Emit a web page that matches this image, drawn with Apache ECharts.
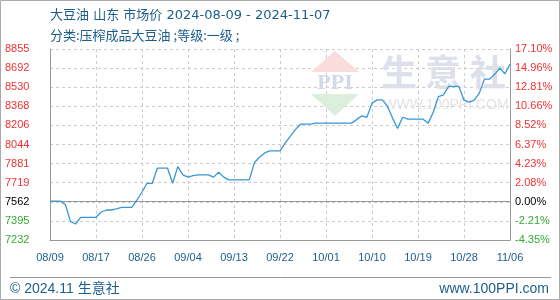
<!DOCTYPE html>
<html>
<head>
<meta charset="utf-8">
<script src="https://cdn.jsdelivr.net/npm/echarts@6/dist/echarts.min.js"></script>
<style>
html,body{margin:0;padding:0;background:#fff;}
#c{width:560px;height:300px;}
</style>
</head>
<body>
<div id="c"></div>
<script>
const titleText = '大豆油 山东 市场价 2024-08-09 - 2024-11-07';
const subTitleText = '分类:压榨成品大豆油 ;等级:一级 ;';
const dates = [
'08/09','08/10','08/11','08/12','08/13','08/14','08/15','08/16','08/17','08/18','08/19','08/20','08/21','08/22','08/23','08/24','08/25','08/26','08/27','08/28','08/29','08/30','08/31',
'09/01','09/02','09/03','09/04','09/05','09/06','09/07','09/08','09/09','09/10','09/11','09/12','09/13','09/14','09/15','09/16','09/17','09/18','09/19','09/20','09/21','09/22','09/23','09/24','09/25','09/26','09/27','09/28','09/29','09/30',
'10/01','10/02','10/03','10/04','10/05','10/06','10/07','10/08','10/09','10/10','10/11','10/12','10/13','10/14','10/15','10/16','10/17','10/18','10/19','10/20','10/21','10/22','10/23','10/24','10/25','10/26','10/27','10/28','10/29','10/30','10/31',
'11/01','11/02','11/03','11/04','11/05','11/06','11/07'];
const prices = [
7562,7562,7562,7534,7390,7368,7425,7425,7425,7425,
7470,7487,7487,7496,7510,7510,7510,7570,7640,7714,
7714,7842,7842,7842,7714,7856,7785,7766,7779,7785,
7785,7785,7766,7808,7766,7743,7743,7743,7743,7743,
7890,7935,7972,7989,7989,7989,8055,8112,8170,8216,
8216,8216,8225,8225,8225,8225,8225,8225,8225,8225,
8255,8287,8275,8395,8423,8423,8370,8270,8180,8275,
8259,8259,8259,8259,8225,8320,8450,8466,8537,8537,
8537,8420,8404,8420,8480,8599,8599,8640,8693,8645,
8725];
const xTickLabels = ['08/09','08/17','08/26','09/04','09/13','09/22','10/01','10/10','10/19','10/28','11/06'];
const leftTickLabels = ['7232','7395','7562','7719','7881','8044','8206','8368','8530','8692','8855'];
const rightTickLabels = ['-4.35%','-2.21%','0.00%','2.08%','4.23%','6.37%','8.52%','10.66%','12.81%','14.96%','17.10%'];
const basePrice = 7562;
const priceMin = 7232, priceMax = 8855;
const baseTickIndex = 2;

const tickEvery = 9;
const textBlue = '#1c5d8c';
const labelFont = 'Liberation Sans, Arial, sans-serif';
function tickColor(v){
  if (v > baseTickIndex) return '#f03232';
  if (v < baseTickIndex) return '#35a835';
  return '#000';
}

const chart = echarts.init(document.getElementById('c'), null, {renderer:'canvas'});
chart.setOption({
  animation:false,
  backgroundColor:'#fff',
  grid:{left:50, right:50, top:49, bottom:60, containLabel:false},
  xAxis:{
    type:'category', data:dates, boundaryGap:false,
    axisLine:{show:true, lineStyle:{color:'#999', width:1}},
    axisTick:{show:false},
    axisLabel:{
      interval:function(i){return i % tickEvery === 0;},
      formatter:function(v,i){return xTickLabels[Math.round(i/tickEvery)];},
      color:textBlue, fontSize:11, fontFamily:labelFont, margin:12
    },
    splitLine:{show:true, interval:function(i){return i % tickEvery === 0 && i>0;}, lineStyle:{color:'#cccccc', type:[3,3], width:1}}
  },
  yAxis:[
    {type:'value', min:priceMin, max:priceMax, show:false},
    {type:'value', position:'left', min:0, max:10, interval:1,
      axisLine:{show:true, lineStyle:{color:'#999', width:1}},
      axisTick:{show:false},
      splitLine:{show:true, lineStyle:{color:'#cccccc', type:[3,3], width:1}},
      axisLabel:{formatter:function(v){return leftTickLabels[Math.round(v)];}, color:function(v){return tickColor(Math.round(v));}, fontSize:11, fontFamily:labelFont, align:'left', margin:45}
    },
    {type:'value', position:'right', min:0, max:10, interval:1,
      axisLine:{show:true, lineStyle:{color:'#999', width:1}},
      axisTick:{show:false},
      splitLine:{show:false},
      axisLabel:{formatter:function(v){return rightTickLabels[Math.round(v)];}, color:function(v){return tickColor(Math.round(v));}, fontSize:11, fontFamily:labelFont, align:'left', margin:5}
    }
  ],
  series:[{
    type:'line', data:prices, yAxisIndex:0, symbol:'none', smooth:false,
    lineStyle:{color:'#3897d5', width:1.3},
    itemStyle:{color:'#3897d5'},
    z:5,
    markLine:{silent:true, symbol:'none', label:{show:false}, animation:false,
      lineStyle:{color:'#999', type:'solid', width:1},
      data:[{yAxis:basePrice}]}
  }],
  graphic:[
    {type:'rect', shape:{x:0.5,y:0.5,width:559,height:299}, style:{fill:'none', stroke:'#aaa', lineWidth:1}, z:0, silent:true},
    {type:'text', x:50, y:16, style:{text:titleText, fill:textBlue, font:'13px "DejaVu Sans", "Noto Sans CJK SC", sans-serif', textVerticalAlign:'middle'}},
    {type:'text', x:50, y:35, style:{text:subTitleText, fill:textBlue, font:'13px "Noto Sans CJK SC", sans-serif', textVerticalAlign:'middle'}},
    // watermark logo
    {type:'polygon', shape:{points:[[335,51],[359,72],[311,72]]}, style:{fill:'#fbdcdc'}, z:1, silent:true},
    {type:'text', x:335, y:83, style:{text:'PPI', fill:'#d3d9e8', font:'bold 22px "Liberation Serif", serif', textAlign:'center', textVerticalAlign:'middle'}, z:1, silent:true},
    {type:'polygon', shape:{points:[[311,94],[359,94],[335,116]]}, style:{fill:'#dcefdd'}, z:1, silent:true},
    {type:'text', x:399, y:72, style:{text:'生', fill:'#dde0ea', font:'bold 36px "Noto Sans CJK SC", sans-serif', textAlign:'center', textVerticalAlign:'middle'}, z:1, silent:true},
    {type:'text', x:443, y:72, style:{text:'意', fill:'#dde0ea', font:'bold 36px "Noto Sans CJK SC", sans-serif', textAlign:'center', textVerticalAlign:'middle'}, z:1, silent:true},
    {type:'text', x:488, y:72, style:{text:'社', fill:'#dde0ea', font:'bold 36px "Noto Sans CJK SC", sans-serif', textAlign:'center', textVerticalAlign:'middle'}, z:1, silent:true},
    {type:'text', x:446, y:105, style:{text:'WWW.100PPI.COM', fill:'#e4e4e4', font:'14px "Liberation Sans", sans-serif', textAlign:'center', textVerticalAlign:'middle'}, z:1, silent:true},
    // footer
    {type:'line', shape:{x1:10,y1:277.5,x2:551,y2:277.5}, style:{stroke:'#999', lineWidth:1}, silent:true},
    {type:'text', x:10, y:289, style:{text:'© 2024.11 生意社', fill:textBlue, font:'14px "Liberation Sans", "Noto Sans CJK SC", sans-serif', textVerticalAlign:'middle'}},
    {type:'text', x:549, y:289, style:{text:'www.100PPI.com', fill:textBlue, font:'14px "Liberation Sans", sans-serif', textAlign:'right', textVerticalAlign:'middle'}}
  ]
});
</script>
</body>
</html>
